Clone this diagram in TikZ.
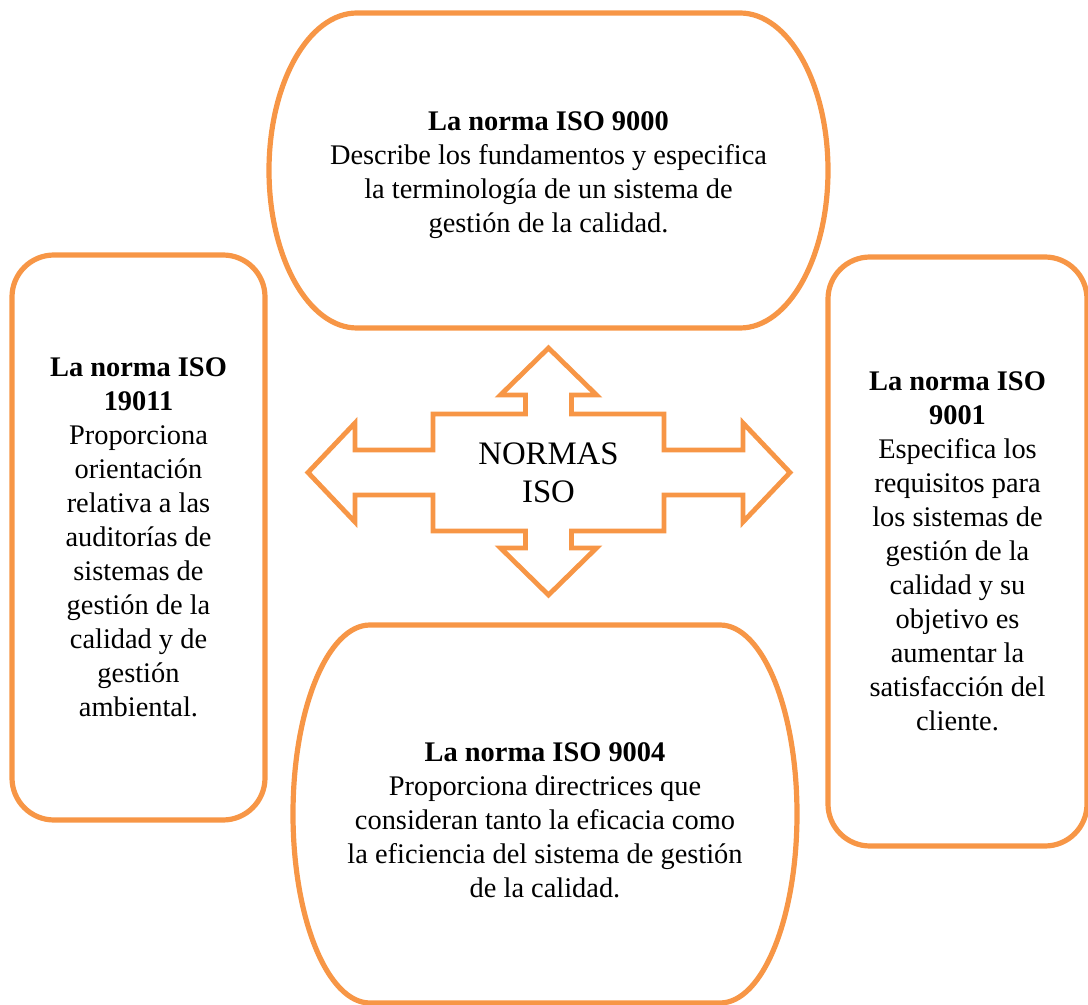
\documentclass[tikz,border=0pt]{standalone}
\usepackage{fontspec}
\setmainfont{Liberation Serif}
\usepackage{xcolor}
\usepackage{tikz}

\definecolor{isoorange}{HTML}{F79646}
\newcommand{\boxfont}{\fontsize{14.2}{17}\selectfont}
\newcommand{\hubfont}{\fontsize{16.4}{19}\selectfont}

\begin{document}
\begin{tikzpicture}[x=0.5pt, y=-0.5pt,
    side/.style={draw=isoorange, line width=2.6pt, rounded corners=21pt, align=center, font=\boxfont, inner sep=0pt},
    oval/.style={draw=isoorange, line width=2.6pt},
    txt/.style={align=center, font=\boxfont, inner sep=0pt}]
    \useasboundingbox (0,0) rectangle (1088,1005);

    % centre arrow
    \draw[isoorange, line width=2.4pt, line join=miter]
        (548.5,348) -- (596.5,395) -- (571.5,395) -- (571.5,414) -- (664,414) -- (664,450)
        -- (743,450) -- (743,423) -- (790,472.5) -- (743,522) -- (743,495) -- (664,495)
        -- (664,531) -- (571.5,531) -- (571.5,548) -- (596.5,548) -- (548.5,595)
        -- (500.5,548) -- (525.5,548) -- (525.5,531) -- (433,531) -- (433,495)
        -- (355,495) -- (355,522) -- (308,472.5) -- (355,423) -- (355,450) -- (433,450)
        -- (433,414) -- (525.5,414) -- (525.5,395) -- (500.5,395) -- cycle;
    \node (NORMAS) [align=center, font=\hubfont, inner sep=0pt] at (548.5,473) {NORMAS\\ISO};

    % top and bottom
    \draw[oval] (357,13) -- (740,13) arc[start angle=-90, end angle=90, x radius=88, y radius=157.5]
        -- (357,328) arc[start angle=90, end angle=270, x radius=88, y radius=157.5] -- cycle;
    \node (ISO9000) [txt] at (548.5,175) {\textbf{La norma ISO 9000}\\Describe los fundamentos y especifica\\la terminología de un sistema de\\gestión de la calidad.};

    \draw[oval] (468,625) -- (720,625) arc[start angle=-90, end angle=90, x radius=77, y radius=189]
        -- (370,1003) arc[start angle=90, end angle=270, x radius=77, y radius=189] -- cycle;
    \node (ISO9004) [txt] at (545,820) {\textbf{La norma ISO 9004}\\Proporciona directrices que\\consideran tanto la eficacia como\\la eficiencia del sistema de gestión\\de la calidad.};

    % left and right
    \node (ISO19011) [side, minimum width=126.5pt, minimum height=282.5pt] at (138.5,537.5)
        {\textbf{La norma ISO}\\\textbf{19011}\\Proporciona\\orientación\\relativa a las\\auditorías de\\sistemas de\\gestión de la\\calidad y de\\gestión\\ambiental.};
    \node (ISO9001) [side, minimum width=129.5pt, minimum height=294.5pt] at (957.5,551.5)
        {\textbf{La norma ISO}\\\textbf{9001}\\Especifica los\\requisitos para\\los sistemas de\\gestión de la\\calidad y su\\objetivo es\\aumentar la\\satisfacción del\\cliente.};
\end{tikzpicture}
\end{document}
